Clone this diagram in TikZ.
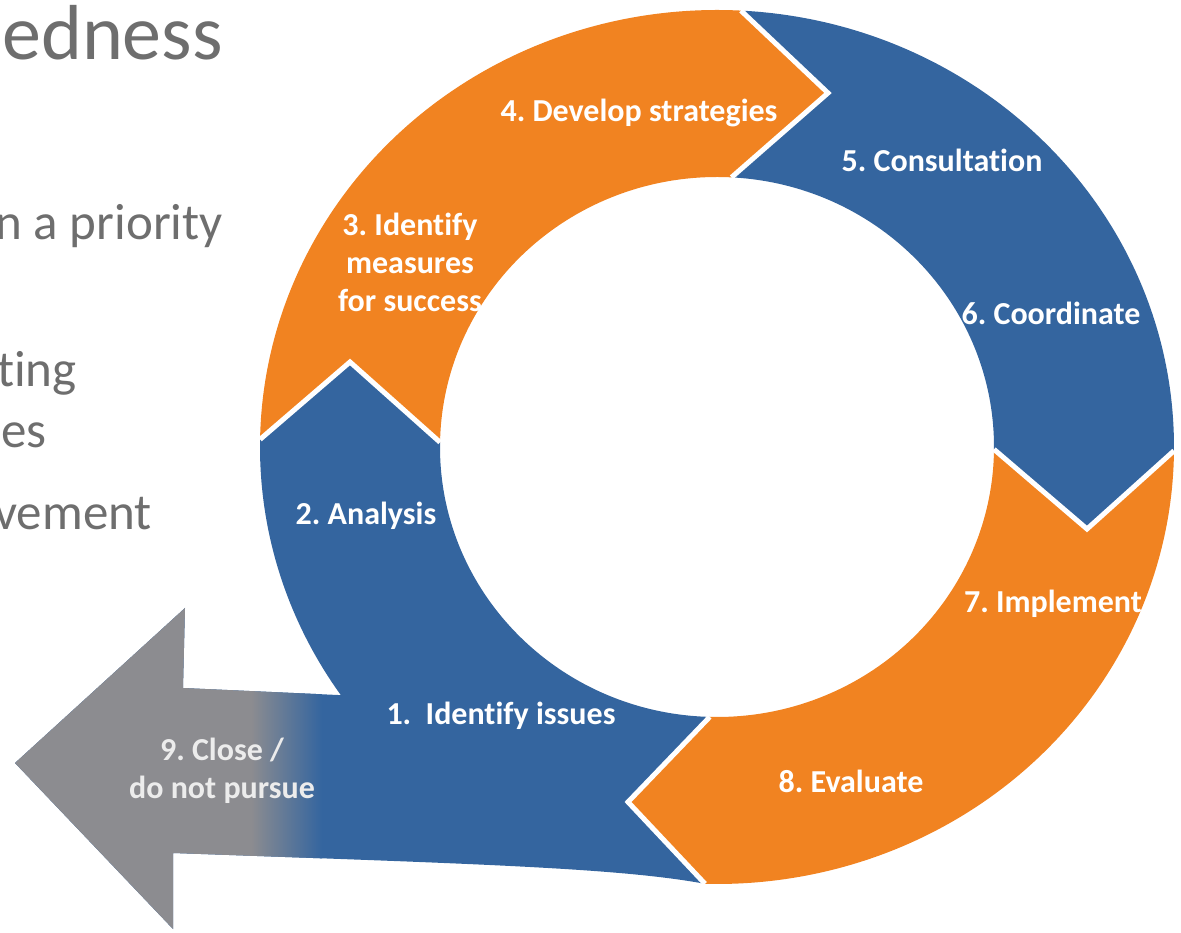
\documentclass[tikz,border=0pt]{standalone}
\usepackage{fontspec}
\setmainfont{Carlito}[RawFeature={-liga}]
\definecolor{segorange}{RGB}{241,131,33}
\definecolor{segblue}{RGB}{52,101,159}
\definecolor{arrgray}{RGB}{140,140,144}
\definecolor{slidetext}{RGB}{110,110,110}
\definecolor{closewhite}{RGB}{236,236,236}
\begin{document}
\frenchspacing
\begin{tikzpicture}[x=1pt,y=1pt,
  lbl/.style={text=white,font=\fontsize{32}{38}\selectfont\bfseries,align=center,inner sep=0pt},
  slidetitle/.style={text=slidetext,font=\fontsize{78}{82}\selectfont,inner sep=0pt,anchor=base east},
  slidebody/.style={text=slidetext,font=\fontsize{51}{56}\selectfont,inner sep=0pt,anchor=base east},
  gapline/.style={white,line width=5pt,line join=miter}]
\useasboundingbox (0,0) rectangle (1181,932);
\clip (0,0) rectangle (1181,932);

% slide text (cut off at the left)
\node[slidetitle] (t1) at (223,872) {edness};
\node[slidebody] (t2) at (223,692) {n a priority};
\node[slidebody] (t3) at (77,545) {ting};
\node[slidebody] (t4) at (47,484) {es};
\node[slidebody] (t5) at (152,402) {vement};

% ring geometry
\coordinate (C) at (717,485);
\path (C) ++(179:457pt and 437pt) coordinate (oL);
\path (C) ++(179:277pt and 270pt) coordinate (iL);
\path (C) ++(87:457pt and 437pt) coordinate (oT);
\path (C) ++(87:277pt and 270pt) coordinate (iT);
\path (C) ++(-0.5:457pt and 437pt) coordinate (oR);
\path (C) ++(-0.5:277pt and 270pt) coordinate (iR);
\path (C) ++(-91.5:457pt and 437pt) coordinate (oB);
\path (C) ++(-91.5:277pt and 270pt) coordinate (iB);
\coordinate (tL) at (350,570);
\coordinate (tT) at (828,839);
\coordinate (tR) at (1087,403);
\coordinate (tB) at (628,130);
\coordinate (sT) at (183,244);
\coordinate (bT) at (185,324);
\coordinate (aTip) at (15,169);
\coordinate (bB) at (173,3);
\coordinate (sB) at (173,79);

% 3/4 orange
\fill[segorange] (oL) arc[start angle=179,end angle=87,x radius=457pt,y radius=437pt]
  -- (tT) -- (iT) arc[start angle=87,end angle=179,x radius=277pt,y radius=270pt]
  -- (tL) -- cycle;
% 5/6 blue
\fill[segblue] (oT) arc[start angle=87,end angle=-0.5,x radius=457pt,y radius=437pt]
  -- (tR) -- (iR) arc[start angle=-0.5,end angle=87,x radius=277pt,y radius=270pt]
  -- (tT) -- cycle;
% 7/8 orange
\fill[segorange] (oR) arc[start angle=-0.5,end angle=-91.5,x radius=457pt,y radius=437pt]
  -- (tB) -- (iB) arc[start angle=-91.5,end angle=-0.5,x radius=277pt,y radius=270pt]
  -- (tR) -- cycle;
% 1/2 blue with exit arrow
\def\bluepath{(oB) -- (tB) -- (iB)
  arc[start angle=-91.5,end angle=-181,x radius=277pt,y radius=270pt]
  -- (tL) -- (oL)
  arc[start angle=179,end angle=214.6,x radius=457pt,y radius=437pt]
  -- (sT) -- (bT) -- (aTip) -- (bB) -- (sB)
  .. controls (480,68) and (620,64) .. (oB) -- cycle}
\fill[segblue] \bluepath;
\begin{scope}
  \clip \bluepath;
  \fill[arrgray] (0,0) rectangle (252,340);
  \shade[left color=arrgray,right color=segblue] (251,0) rectangle (322,252);
\end{scope}

% white gaps
\draw[gapline] (oL) -- (tL) -- (iL);
\draw[gapline] (oT) -- (tT) -- (iT);
\draw[gapline] (oR) -- (tR) -- (iR);
\draw[gapline] (oB) -- (tB) -- (iB);

% labels
\node[lbl] (l4) at (639,819) {4. Develop strategies};
\node[lbl] (l5) at (942,772) {5. Consultation};
\node[lbl] (l3) at (410,670) {3. Identify\\measures\\for success};
\node[lbl] (l6) at (1051,619) {6. Coordinate};
\node[lbl] (l2) at (366,416) {2. Analysis};
\node[lbl] (l7) at (1053,328) {7. Implement};
\node[lbl] (l1) at (501,216) {1.\ \ Identify issues};
\node[lbl] (l8) at (851,151) {8. Evaluate};
\node[lbl,text=closewhite] (l9) at (222,161) {9. Close /\\do not pursue};
\end{tikzpicture}
\end{document}
